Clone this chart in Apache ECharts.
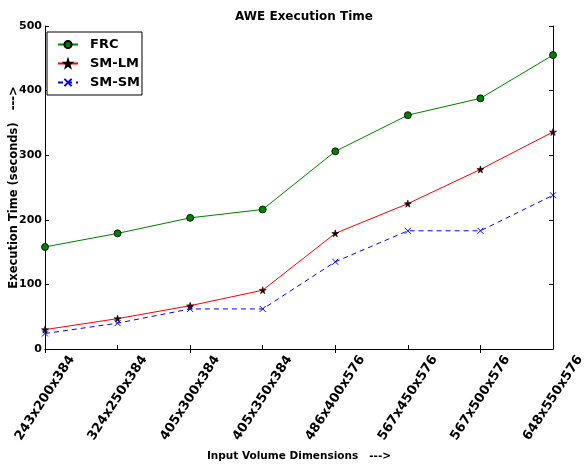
<!DOCTYPE html>
<html><head><meta charset="utf-8">
<script src="https://cdn.jsdelivr.net/npm/echarts@6/dist/echarts.min.js"></script>
<style>html,body{margin:0;padding:0;background:#fff}#c{width:586px;height:464px}</style>
</head><body><div id="c"></div>
<script>
const categories = ['243x200x384','324x250x384','405x300x384','405x350x384','486x400x576','567x450x576','567x500x576','648x550x576'];
const frc = [158, 179, 203, 216, 306, 362, 388, 455];
const smlm = [30, 47, 67, 91, 179, 225, 278, 336];
const smsm = [24, 40, 62, 62, 135, 183, 183, 238];
const yTicks = [0, 100, 200, 300, 400, 500];

const F = 'DejaVu Sans';
const starPath = 'path://M50,0 L61,35 L98,35 L68,57 L79,91 L50,70 L21,91 L32,57 L2,35 L39,35 Z';
const xPath = 'path://M0,0 L10,10 M10,0 L0,10';

const chart = echarts.init(document.getElementById('c'), null, {renderer: 'canvas'});
const axisLine = {show: true, lineStyle: {color: '#000', width: 1}};
chart.setOption({
  animation: false,
  backgroundColor: '#fff',
  title: {text: 'AWE Execution Time', left: 299, top: 6, textAlign: 'center',
    textStyle: {fontFamily: F, fontWeight: 'bold', fontSize: 12, color: '#000'}},
  legend: {
    left: 47, top: 32, orient: 'vertical', itemGap: 6, itemWidth: 20, itemHeight: 9,
    padding: [6, 2, 6, 10], borderColor: '#000', borderWidth: 1, backgroundColor: '#fff', borderRadius: 0,
    textStyle: {fontFamily: F, fontWeight: 'bold', fontSize: 13, color: '#000', padding: [0, 0, 0, 7]},
    data: ['FRC', 'SM-LM', 'SM-SM']
  },
  grid: {left: 45, right: 33, top: 26, bottom: 115, containLabel: false, outerBoundsMode: 'none'},
  xAxis: [{
    type: 'category', data: categories, boundaryGap: false,
    axisLine: axisLine, axisTick: {show: true, inside: true, length: 4, lineStyle: {color: '#000'}},
    axisLabel: {rotate: 57, align: 'center', verticalAlign: 'middle', fontFamily: F, fontWeight: 'bold', fontSize: 13, color: '#000', margin: 49, hideOverlap: false, interval: 0},
    splitLine: {show: false},
    name: 'Input Volume Dimensions   --->', nameLocation: 'middle', nameGap: 102, nameMoveOverlap: false,
    nameTextStyle: {fontFamily: F, fontWeight: 'bold', fontSize: 10.5, color: '#000'}
  }, {
    type: 'category', data: categories, boundaryGap: false, position: 'top',
    axisLine: axisLine, axisTick: {show: true, inside: true, length: 4, lineStyle: {color: '#000'}},
    axisLabel: {show: false}, splitLine: {show: false}
  }],
  yAxis: [{
    type: 'value', min: yTicks[0], max: yTicks[yTicks.length - 1], interval: 100,
    axisLine: axisLine, axisTick: {show: true, inside: true, length: 4, lineStyle: {color: '#000'}},
    axisLabel: {fontFamily: F, fontWeight: 'bold', fontSize: 11, color: '#000', margin: 3},
    splitLine: {show: false},
    name: 'Execution Time (seconds)   --->', nameLocation: 'middle', nameGap: 25, nameMoveOverlap: false,
    nameTextStyle: {fontFamily: F, fontWeight: 'bold', fontSize: 11.5, color: '#000'}
  }, {
    type: 'value', min: yTicks[0], max: yTicks[yTicks.length - 1], interval: 100, position: 'right',
    axisLine: axisLine, axisTick: {show: true, inside: true, length: 4, lineStyle: {color: '#000'}},
    axisLabel: {show: false}, splitLine: {show: false}
  }],
  series: [{
    name: 'FRC', type: 'line', data: frc, symbol: 'circle', symbolSize: 7,
    lineStyle: {color: '#008000', width: 1}, itemStyle: {color: '#008000', borderColor: '#000', borderWidth: 0.8}
  }, {
    name: 'SM-LM', type: 'line', data: smlm, symbol: starPath, symbolSize: 7,
    lineStyle: {color: '#ff0000', width: 1}, itemStyle: {color: '#330000', borderColor: '#000', borderWidth: 0.6}
  }, {
    name: 'SM-SM', type: 'line', data: smsm, symbol: xPath, symbolSize: 6,
    lineStyle: {color: '#0000ff', width: 1, type: [5, 4]}, itemStyle: {color: 'none', borderColor: '#0000ff', borderWidth: 1}
  }]
});
</script></body></html>
